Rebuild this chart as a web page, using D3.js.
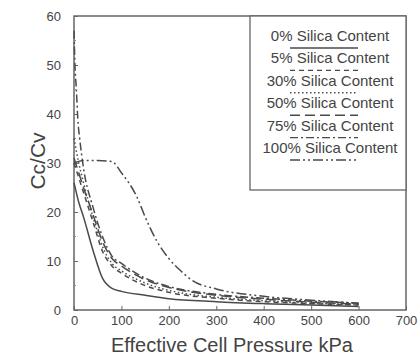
<!DOCTYPE html>
<html>
<head>
<meta charset="utf-8">
<script src="https://cdn.jsdelivr.net/npm/d3@7"></script>
<style>
  body { margin: 0; background: #fff; }
  svg { display: block; }
</style>
</head>
<body>
<svg id="chart" width="420" height="356"></svg>
<script>
// series data
const seriesNames = ["0% Silica Content", "5% Silica Content", "30% Silica Content",
                     "50% Silica Content", "75% Silica Content", "100% Silica Content"];
const p0 = [0, 10, 20, 40, 60, 80, 100, 150, 200, 300, 400, 500, 600];
const cc0 = [26, 22, 19, 12.2, 6.5, 4.4, 3.8, 3.0, 2.3, 1.7, 1.3, 1.0, 0.7];
const p5 = [0, 10, 20, 40, 60, 80, 100, 150, 200, 300, 400, 500, 600];
const cc5 = [30, 27, 24, 18, 12, 9, 7.5, 5, 3.6, 2.4, 1.7, 1.3, 1.0];
const p30 = [0, 10, 20, 40, 60, 80, 100, 150, 200, 300, 400, 500, 600];
const cc30 = [35, 30, 26, 19, 13, 9.5, 8, 5.5, 4, 2.6, 1.9, 1.4, 1.1];
const p50 = [0, 10, 20, 40, 60, 80, 100, 150, 200, 300, 400, 500, 600];
const cc50 = [31, 28, 25, 19.5, 14, 10.5, 9, 6.2, 4.6, 3, 2.2, 1.6, 1.2];
const p75 = [0, 2, 5, 8, 12, 20, 40, 60, 80, 100, 150, 200, 300, 400, 500, 600];
const cc75 = [57, 50, 45, 39, 35, 29, 21, 15, 11, 9.5, 6.5, 4.8, 3.2, 2.4, 1.8, 1.4];
const p100 = [0, 20, 50, 80, 100, 133, 150, 175, 200, 225, 250, 300, 400, 500, 600];
const cc100 = [30, 30.5, 30.5, 30.3, 28, 23, 19, 14, 10.5, 8, 6, 4.3, 2.8, 2.0, 1.4];

const xTicks = [0, 100, 200, 300, 400, 500, 600, 700];
const yTicks = [0, 10, 20, 30, 40, 50, 60];

const dashes = ["none", "5,4", "1.5,2.5", "10,5", "8,3,2,3", "10,3,2,3,2,3"];

const svg = d3.select("#chart");
const margin = {top: 16, right: 14, bottom: 46, left: 74};
const width = 420, height = 356;
const ink = "#4a4a4a";
const font = "'Liberation Sans', Arial, sans-serif";

const x = d3.scaleLinear().domain([0, 700]).range([margin.left, width - margin.right]);
const y = d3.scaleLinear().domain([0, 60]).range([height - margin.bottom, margin.top]);

const series = [
  {p: p0, c: cc0}, {p: p5, c: cc5}, {p: p30, c: cc30},
  {p: p50, c: cc50}, {p: p75, c: cc75}, {p: p100, c: cc100}
].map((s, i) => ({name: seriesNames[i], dash: dashes[i],
                  pts: s.p.map((v, j) => [v, s.c[j]])}));

// frame
svg.append("rect")
  .attr("x", x(0)).attr("y", y(60))
  .attr("width", x(700) - x(0)).attr("height", y(0) - y(60))
  .attr("fill", "none").attr("stroke", "#666").attr("stroke-width", 1.5);

// axes, ticks pointing inward
const xAxis = g => g
  .attr("transform", `translate(0,${y(0)})`)
  .call(d3.axisBottom(x).tickValues(xTicks).tickSize(-4).tickPadding(6).tickSizeOuter(0));
const yAxis = g => g
  .attr("transform", `translate(${x(0)},0)`)
  .call(d3.axisLeft(y).tickValues(yTicks).tickSize(-4).tickPadding(13).tickSizeOuter(0));

svg.append("g").call(xAxis);
svg.append("g").call(yAxis);

// minor ticks
svg.append("g").selectAll("line")
  .data(d3.range(5, 60, 10))
  .join("line")
    .attr("x1", x(0)).attr("x2", x(0) + 2)
    .attr("y1", d => y(d)).attr("y2", d => y(d))
    .attr("stroke", "#888");

svg.selectAll(".domain").remove();
svg.selectAll(".tick line").attr("stroke", "#666");
svg.selectAll(".tick text")
  .attr("fill", "#444")
  .style("font", `13px ${font}`);

// curves
const line = d3.line()
  .x(d => x(d[0]))
  .y(d => y(d[1]))
  .curve(d3.curveMonotoneX);

svg.append("g")
  .attr("fill", "none")
  .attr("stroke", ink)
  .attr("stroke-width", 1.5)
  .selectAll("path")
  .data(series)
  .join("path")
    .attr("stroke-dasharray", d => d.dash)
    .attr("d", d => line(d.pts));

// axis titles
svg.append("text")
  .attr("x", 232)
  .attr("y", 352)
  .attr("text-anchor", "middle")
  .attr("fill", "#444")
  .style("font", `20px ${font}`)
  .text("Effective Cell Pressure kPa");

svg.append("text")
  .attr("transform", `translate(45,161) rotate(-90)`)
  .attr("text-anchor", "middle")
  .attr("fill", "#444")
  .style("font", `21px ${font}`)
  .text("Cc/Cv");

// legend
const lg = svg.append("g");
lg.append("rect")
  .attr("x", 250).attr("y", y(60))
  .attr("width", x(700) - 250).attr("height", 174)
  .attr("fill", "#fff").attr("stroke", "#666").attr("stroke-width", 1.3);

const rows = lg.selectAll("g.row")
  .data(series)
  .join("g")
    .attr("class", "row")
    .attr("transform", (d, i) => `translate(0,${41 + i * 22.4})`);

rows.append("text")
  .attr("x", 330)
  .attr("text-anchor", "middle")
  .attr("fill", "#444")
  .style("font", `15px ${font}`)
  .text(d => d.name);

rows.append("line")
  .attr("x1", 290).attr("x2", 358)
  .attr("y1", 7).attr("y2", 7)
  .attr("stroke", ink).attr("stroke-width", 1.4)
  .attr("stroke-dasharray", d => d.dash);
</script>
</body>
</html>
